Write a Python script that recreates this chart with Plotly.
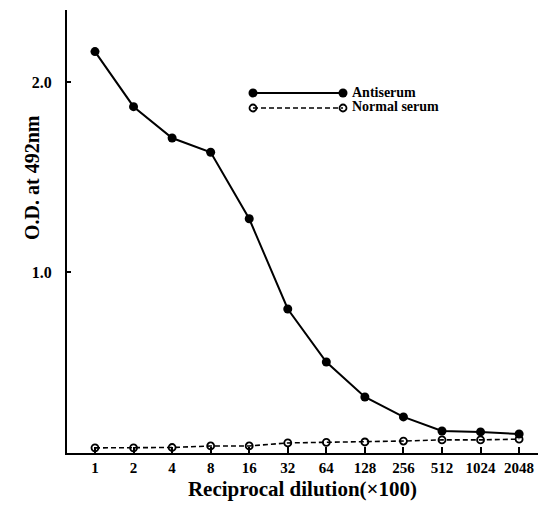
import plotly.graph_objects as go

dilutions = ["1", "2", "4", "8", "16", "32", "64", "128", "256", "512", "1024", "2048"]
antiserum = [2.16, 1.87, 1.705, 1.63, 1.28, 0.805, 0.526, 0.342, 0.237, 0.163, 0.158, 0.147]
normal_serum = [0.074, 0.074, 0.076, 0.084, 0.084, 0.10, 0.103, 0.105, 0.11, 0.116, 0.116, 0.12]

y_ticks = [1.0, 2.0]
y_ticklabels = ["1.0", "2.0"]

serif = "Liberation Serif"
idx = list(range(len(dilutions)))

# plot area in pixels
L, R, T, B = 67, 538, 10, 453
PW, PH = R - L, B - T


def fx(px):
    return (px - L) / PW


def fy(py):
    return (B - py) / PH


fig = go.Figure()
fig.add_trace(go.Scatter(
    x=idx, y=normal_serum, mode="lines+markers", name="Normal serum",
    line=dict(color="black", width=1.6, dash="5px,3px"),
    marker=dict(symbol="circle-open", size=7, color="black", line=dict(width=1.8)),
    showlegend=False, cliponaxis=False,
))
fig.add_trace(go.Scatter(
    x=idx, y=antiserum, mode="lines+markers", name="Antiserum",
    line=dict(color="black", width=2),
    marker=dict(symbol="circle", size=9, color="black"),
    showlegend=False, cliponaxis=False,
))

# custom legend samples (on an auxiliary axis)
fig.add_trace(go.Scatter(
    x=[0, 1], y=[1, 1], xaxis="x2", yaxis="y2", mode="lines+markers",
    line=dict(color="black", width=2), marker=dict(symbol="circle", size=9, color="black"),
    showlegend=False, hoverinfo="skip", cliponaxis=False))
fig.add_trace(go.Scatter(
    x=[0, 1], y=[0, 0], xaxis="x2", yaxis="y2", mode="lines+markers",
    line=dict(color="black", width=1.6, dash="5px,3px"),
    marker=dict(symbol="circle-open", size=7, color="black", line=dict(width=1.8)),
    showlegend=False, hoverinfo="skip", cliponaxis=False))

fig.update_layout(
    width=538, height=509,
    margin=dict(l=L, r=538 - R, t=T, b=509 - B),
    paper_bgcolor="white", plot_bgcolor="white",
    font=dict(family=serif, color="black", size=15),
    xaxis=dict(
        range=[-0.726, 11.49], tickvals=idx, ticktext=["<b>%s</b>" % d for d in dilutions],
        showline=True, linecolor="black", linewidth=2, showgrid=False, zeroline=False,
        ticks="inside", ticklen=6, tickcolor="black", tickwidth=1.5,
        tickfont=dict(family=serif, size=15, color="black"),
        title=dict(text="<b>Reciprocal dilution(×100)</b>", font=dict(family=serif, size=21), standoff=6),
    ),
    yaxis=dict(
        range=[0.047, 2.379], tickvals=y_ticks, ticktext=["<b>%s</b>" % t for t in y_ticklabels],
        showline=True, linecolor="black", linewidth=2, showgrid=False, zeroline=False,
        ticks="inside", ticklen=4, tickcolor="black", tickwidth=1.5,
        tickfont=dict(family=serif, size=16, color="black"),
        ticklabelstandoff=10,
    ),
    xaxis2=dict(domain=[fx(253), fx(343)], range=[0, 1], visible=False, anchor="y2"),
    yaxis2=dict(domain=[fy(108 + 7.5), fy(93 - 7.5)], range=[-0.5, 1.5], visible=False, anchor="x2"),
    annotations=[
        dict(text="<b>O.D. at 492nm</b>", x=fx(19), y=fy(178), xref="paper", yref="paper",
             showarrow=False, textangle=-90, font=dict(family=serif, size=20)),
        dict(text="<b>Antiserum</b>", x=fx(350), y=fy(92), xref="paper", yref="paper",
             xanchor="left", yanchor="middle", showarrow=False, font=dict(family=serif, size=14)),
        dict(text="<b>Normal serum</b>", x=fx(350), y=fy(107), xref="paper", yref="paper",
             xanchor="left", yanchor="middle", showarrow=False, font=dict(family=serif, size=14)),
    ],
)

fig.write_html("out.html")
